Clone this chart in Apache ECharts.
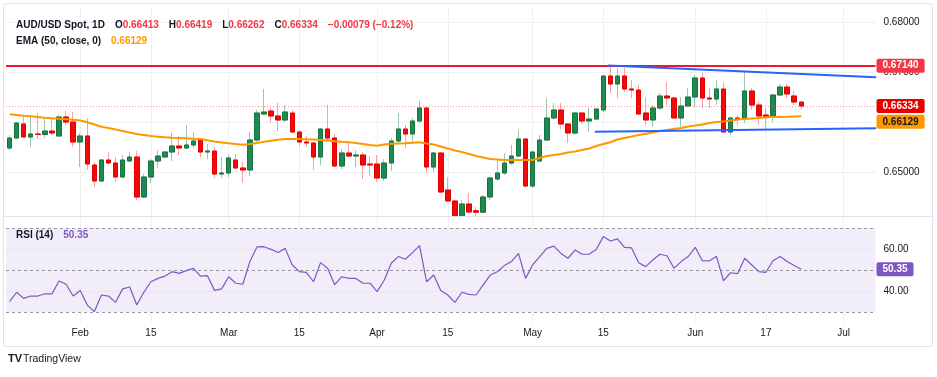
<!DOCTYPE html>
<html>
<head>
<meta charset="utf-8">
<script src="https://cdn.jsdelivr.net/npm/echarts@6/dist/echarts.min.js"></script>
<style>html,body{margin:0;padding:0;background:#fff}#chart{width:937px;height:377px}</style>
</head>
<body>
<div id="chart"></div>
<script>
// daily AUD/USD candles, 2024-01-18 .. 2024-06-24 (mid-April lows run off the pane bottom)
const opens = [0.65494,0.65694,0.65974,0.65714,0.65774,0.65764,0.65834,0.65734,0.66114,0.66014,
  0.65614,0.65734,0.65154,0.64834,0.65254,0.65194,0.64914,0.65234,0.65314,0.64514,
  0.64914,0.65234,0.65314,0.65414,0.65534,0.65494,0.65554,0.65654,0.65414,0.65434,
  0.64974,0.64994,0.65254,0.65094,0.65054,0.65654,0.66174,0.66234,0.66134,0.66054,
  0.66194,0.65814,0.65614,0.65594,0.65314,0.65874,0.65694,0.65134,0.65394,0.65334,
  0.65354,0.65174,0.65174,0.64894,0.65194,0.65634,0.65874,0.65774,0.66034,0.66294,
  0.65114,0.65394,0.64654,0.64434,0.64135,0.64374,0.64240,0.64210,0.64514,0.64874,
  0.64994,0.65194,0.65334,0.65674,0.64734,0.65234,0.65654,0.66094,0.66254,0.65974,
  0.65794,0.66194,0.66034,0.66074,0.66254,0.66934,0.66774,0.66934,0.66674,0.66654,
  0.66194,0.66054,0.66294,0.66534,0.66494,0.66094,0.66334,0.66514,0.66894,0.66494,
  0.66474,0.66674,0.65814,0.66094,0.66074,0.66634,0.66354,0.66154,0.66114,0.66554,
  0.66714,0.66534,0.66413];
const highs = [0.65750,0.66014,0.66134,0.66114,0.66194,0.66094,0.66094,0.66154,0.66234,0.66214,
  0.65794,0.66094,0.65214,0.65274,0.65414,0.65314,0.65354,0.65414,0.65434,0.64974,
  0.65274,0.65454,0.65434,0.65794,0.65734,0.65954,0.65814,0.65694,0.65574,0.65514,
  0.65314,0.65374,0.65374,0.65214,0.65814,0.66254,0.66674,0.66294,0.66394,0.66354,
  0.66254,0.65854,0.65734,0.65614,0.65880,0.66354,0.65774,0.65474,0.65594,0.65454,
  0.65414,0.65334,0.65354,0.65274,0.65694,0.66194,0.65954,0.66094,0.66434,0.66310,
  0.65414,0.65414,0.64914,0.64454,0.64454,0.64594,0.64320,0.64554,0.64914,0.65254,
  0.65394,0.65554,0.65854,0.65690,0.65420,0.65754,0.66494,0.66394,0.66394,0.65994,
  0.66214,0.66214,0.66294,0.66294,0.66954,0.67140,0.67094,0.67094,0.66854,0.66754,
  0.66514,0.66354,0.66594,0.66814,0.66514,0.66514,0.66694,0.66954,0.66994,0.66694,
  0.66854,0.66814,0.66114,0.66154,0.67014,0.66694,0.66414,0.66294,0.66574,0.66774,
  0.66774,0.66634,0.66419];
const lows = [0.65454,0.65674,0.65694,0.65514,0.65674,0.65694,0.65754,0.65714,0.65954,0.65514,
  0.65114,0.65054,0.64714,0.64814,0.65174,0.64814,0.64894,0.65214,0.64454,0.64494,
  0.64794,0.65094,0.65294,0.65234,0.65354,0.65474,0.65494,0.65314,0.65274,0.64894,
  0.64894,0.64914,0.65074,0.64794,0.64934,0.65614,0.66154,0.65994,0.65834,0.66014,
  0.65794,0.65534,0.65514,0.65054,0.65154,0.65614,0.65114,0.65074,0.65314,0.65114,
  0.64874,0.64934,0.64814,0.64834,0.65034,0.65614,0.65494,0.65614,0.65994,0.64994,
  0.65014,0.64594,0.64414,0.64126,0.64126,0.64180,0.64126,0.64194,0.64454,0.64834,
  0.64954,0.65154,0.65314,0.64714,0.64694,0.65214,0.65634,0.66074,0.65874,0.65594,
  0.65754,0.65974,0.65814,0.66054,0.66214,0.66594,0.66494,0.66614,0.66494,0.66154,
  0.65954,0.65914,0.66254,0.66354,0.66080,0.65914,0.66314,0.66314,0.66294,0.66294,
  0.66354,0.65800,0.65754,0.65934,0.65994,0.66254,0.65954,0.65854,0.66014,0.66534,
  0.66494,0.66354,0.66262];
const closes = [0.65694,0.65994,0.65714,0.65774,0.65764,0.65834,0.65794,0.66114,0.66014,0.65614,
  0.65734,0.65174,0.64834,0.65254,0.65194,0.64914,0.65254,0.65314,0.64514,0.64914,
  0.65234,0.65334,0.65414,0.65534,0.65494,0.65554,0.65634,0.65414,0.65434,0.64974,
  0.64994,0.65294,0.65094,0.65054,0.65654,0.66194,0.66214,0.66134,0.66054,0.66214,
  0.65814,0.65614,0.65594,0.65314,0.65874,0.65694,0.65134,0.65394,0.65334,0.65354,
  0.65154,0.65154,0.64894,0.65194,0.65634,0.65874,0.65774,0.66034,0.66294,0.65114,
  0.65394,0.64614,0.64434,0.64135,0.64374,0.64214,0.64210,0.64514,0.64894,0.64994,
  0.65194,0.65334,0.65674,0.64734,0.65414,0.65654,0.66094,0.66254,0.65974,0.65794,
  0.66194,0.66034,0.66074,0.66274,0.66934,0.66774,0.66934,0.66674,0.66654,0.66174,
  0.66054,0.66294,0.66534,0.66494,0.66094,0.66334,0.66514,0.66894,0.66494,0.66474,
  0.66674,0.65814,0.66094,0.66074,0.66634,0.66354,0.66134,0.66114,0.66554,0.66714,
  0.66574,0.66413,0.66334];
// EMA(50, close) as drawn
const ema50 = [0.66168,0.66154,0.66140,0.66128,0.66114,0.66100,0.66088,0.66078,0.66068,0.66058,
  0.66044,0.66008,0.65964,0.65920,0.65894,0.65864,0.65834,0.65804,0.65774,0.65754,
  0.65734,0.65718,0.65708,0.65700,0.65694,0.65688,0.65680,0.65674,0.65648,0.65624,
  0.65604,0.65588,0.65574,0.65560,0.65574,0.65594,0.65618,0.65638,0.65658,0.65674,
  0.65674,0.65674,0.65670,0.65664,0.65654,0.65644,0.65630,0.65618,0.65608,0.65594,
  0.65574,0.65554,0.65540,0.65564,0.65578,0.65584,0.65588,0.65598,0.65608,0.65584,
  0.65564,0.65524,0.65484,0.65444,0.65414,0.65374,0.65334,0.65304,0.65274,0.65264,
  0.65254,0.65254,0.65254,0.65254,0.65254,0.65294,0.65334,0.65354,0.65374,0.65404,
  0.65424,0.65454,0.65484,0.65534,0.65574,0.65608,0.65664,0.65694,0.65724,0.65754,
  0.65780,0.65804,0.65834,0.65854,0.65874,0.65894,0.65924,0.65944,0.65964,0.65994,
  0.66014,0.66024,0.66044,0.66064,0.66074,0.66084,0.66094,0.66108,0.66112,0.66114,
  0.66118,0.66124,0.66129];
// RSI(14)
const rsi14 = [34.9,39.4,36.5,37.6,37.6,38.7,38.6,44.8,43.2,37.6,
  40.2,33.3,30.2,38.1,37.6,34.6,41.0,41.9,33.3,39.4,
  44.4,46.0,47.1,49.2,48.4,49.7,50.8,47.1,47.3,40.3,
  41.0,46.8,43.7,43.2,54.0,61.0,61.1,59.8,58.3,60.3,
  52.4,49.2,48.9,44.4,53.5,50.8,43.0,46.8,46.0,46.0,
  43.7,43.7,39.7,45.1,53.2,56.4,55.1,58.3,61.6,44.4,
  47.6,40.2,38.1,34.6,39.4,38.4,38.1,42.9,47.6,49.2,
  52.1,54.0,57.9,46.0,52.4,56.4,60.3,61.4,57.9,55.6,
  59.5,57.5,57.6,59.8,65.9,63.8,64.8,60.8,60.5,53.5,
  51.6,54.8,57.5,56.8,50.8,54.0,56.4,60.8,54.4,54.3,
  56.5,44.9,48.7,48.3,55.6,52.4,49.2,48.9,54.4,56.4,
  54.0,52.1,50.35];

const tickIdx = [10, 20, 31, 41, 52, 62, 74, 84, 97, 107, 118];
const tickLabels = ['Feb', '15', 'Mar', '15', 'Apr', '15', 'May', '15', 'Jun', '17', 'Jul'];
const priceGrid = [0.65, 0.66, 0.67, 0.68];
const priceLabels = [0.65, 0.67, 0.68];
const rsiLabels = [40, 60];
const rsiLevels = [70, 50, 30];
const resistance = 0.6714;
const upperTrend = [[84.7, 0.67146], [122.6, 0.66908]];
const lowerTrend = [[82.8, 0.65818], [122.6, 0.65888]];

const SLOTS = 123; // bars + empty space on the right
const dates = [];
for (let d = new Date(Date.UTC(2024, 0, 18)); dates.length < SLOTS; d.setUTCDate(d.getUTCDate() + 1)) {
  const wd = d.getUTCDay();
  if (wd !== 0 && wd !== 6) dates.push(d.toISOString().slice(0, 10));
}

const FONT = 'Liberation Sans';
const TXT = '#131722';
const GRID_L = 6, GRID_W = 869.5;
const n = closes.length - 1;
const chg = closes[n] - closes[n - 1];
const pct = chg / closes[n - 1] * 100;
const sign = v => (v < 0 ? '\u2212' : '+');

const wicks = opens.map((o, i) => [o, closes[i], lows[i], highs[i]]);
const bodies = opens.map((o, i) => [o, closes[i], Math.min(o, closes[i]), Math.max(o, closes[i])]);

const tag = (bg, fg, text) => ({
  show: true, position: 'end', distance: 1, formatter: text,
  backgroundColor: bg, color: fg, fontFamily: FONT, fontSize: 10, fontWeight: 'bold',
  padding: [2, 6, 2, 6], borderRadius: 2
});

const chart = echarts.init(document.getElementById('chart'));

chart.setOption({
  animation: false,
  backgroundColor: '#ffffff',
  title: [
    {
      left: 16, top: 16, padding: 0,
      text: '{b|AUD/USD Spot, 1D}  {b|O}{r|' + opens[n].toFixed(5) + '}  {b|H}{r|' + highs[n].toFixed(5) +
        '}  {b|L}{r|' + lows[n].toFixed(5) + '}  {b|C}{r|' + closes[n].toFixed(5) + '}  {r|' +
        sign(chg) + Math.abs(chg).toFixed(5) + ' (' + sign(chg) + Math.abs(pct).toFixed(2) + '%)}',
      textStyle: { rich: {
        b: { fontFamily: FONT, fontSize: 10, color: TXT },
        r: { fontFamily: FONT, fontSize: 10, color: '#f23645' }
      } }
    },
    {
      left: 16, top: 32, padding: 0,
      text: '{b|EMA (50, close, 0)}  {o|' + ema50[n].toFixed(5) + '}',
      textStyle: { rich: {
        b: { fontFamily: FONT, fontSize: 10, color: TXT },
        o: { fontFamily: FONT, fontSize: 10, color: '#ff9800' }
      } }
    },
    {
      left: 16, top: 226, padding: 0,
      text: '{b|RSI (14)}  {p|' + rsi14[n].toFixed(2) + '}',
      textStyle: { rich: {
        b: { fontFamily: FONT, fontSize: 10, color: TXT },
        p: { fontFamily: FONT, fontSize: 10, color: '#7e57c2' }
      } }
    }
  ],
  grid: [
    { left: GRID_L, width: GRID_W, top: 8, height: 208.5 },
    { left: GRID_L, width: GRID_W, top: 217.5, height: 105 }
  ],
  xAxis: [
    { type: 'category', gridIndex: 0, data: dates, boundaryGap: true,
      axisLine: { show: false }, axisTick: { show: false }, axisLabel: { show: false }, splitLine: { show: false } },
    { type: 'category', gridIndex: 1, data: dates, boundaryGap: true,
      axisLine: { show: false }, axisTick: { show: false }, splitLine: { show: false },
      axisLabel: {
        interval: i => tickIdx.includes(i),
        formatter: (v, i) => tickLabels[tickIdx.indexOf(i)],
        fontFamily: FONT, fontSize: 10, color: TXT, margin: 6
      } },
    { type: 'value', gridIndex: 0, min: -0.5, max: SLOTS - 0.5, show: false },
    { type: 'value', gridIndex: 1, min: -0.5, max: SLOTS - 0.5, show: false }
  ],
  yAxis: [
    { type: 'value', gridIndex: 0, position: 'right', min: 0.64124, max: 0.68294,
      axisLine: { show: false }, axisTick: { show: false }, splitLine: { show: false },
      axisLabel: {
        customValues: priceLabels,
        margin: 8, fontFamily: FONT, fontSize: 10, color: TXT,
        formatter: v => v.toFixed(5)
      } },
    { type: 'value', gridIndex: 1, position: 'right', min: 25, max: 75,
      axisLine: { show: false }, axisTick: { show: false }, splitLine: { show: false },
      axisLabel: {
        customValues: rsiLabels,
        margin: 8, fontFamily: FONT, fontSize: 10, color: TXT,
        formatter: v => v.toFixed(2)
      } }
  ],
  series: [
    { // price pane grid
      type: 'line', xAxisIndex: 2, yAxisIndex: 0, data: [], silent: true, z: 1,
      markLine: { silent: true, symbol: ['none', 'none'], z: 1, precision: 5, label: { show: false },
        lineStyle: { color: '#eef0f4', type: 'solid', width: 1 },
        data: tickIdx.map(i => ({ xAxis: i })).concat(priceGrid.map(v => ({ yAxis: v }))) }
    },
    { // rsi pane grid, band and levels
      type: 'line', xAxisIndex: 3, yAxisIndex: 1, data: [], silent: true, z: 1,
      markArea: { silent: true, itemStyle: { color: 'rgba(126,87,194,0.1)' },
        data: [[{ yAxis: rsiLevels[2] }, { yAxis: rsiLevels[0] }]] },
      markLine: { silent: true, symbol: ['none', 'none'], z: 1, precision: 5, label: { show: false },
        data: tickIdx.map(i => ({ xAxis: i, lineStyle: { color: '#eef0f4', type: 'solid', width: 1 } }))
          .concat(rsiLabels.map(v => ({ yAxis: v, lineStyle: { color: '#e9e6f2', type: 'solid', width: 1 } })))
          .concat(rsiLevels.map(v => ({ yAxis: v, lineStyle: { color: '#9598a1', type: [3, 3], width: 1 } }))) }
    },
    {
      name: 'wicks', type: 'candlestick', xAxisIndex: 0, yAxisIndex: 0, data: wicks, barWidth: 5, z: 3,
      itemStyle: { color: '#9cc7a9', color0: '#f4a3a6', borderColor: '#9cc7a9', borderColor0: '#f4a3a6', borderWidth: 1 }
    },
    {
      name: 'AUD/USD', type: 'candlestick', xAxisIndex: 0, yAxisIndex: 0, data: bodies, barWidth: 5, z: 4,
      itemStyle: { color: '#1f8a4f', color0: '#f20a0a', borderColor: '#17733f', borderColor0: '#e00000', borderWidth: 1 },
      markLine: {
        silent: true, symbol: ['none', 'none'], precision: 5,
        data: [
          { yAxis: resistance, lineStyle: { color: '#f0162f', width: 2, type: 'solid' },
            label: tag('#f23645', '#ffffff', resistance.toFixed(5)) },
          { yAxis: closes[n], lineStyle: { color: 'rgba(242,54,69,0.55)', width: 1, type: [1, 2] },
            label: tag('#e60000', '#ffffff', closes[n].toFixed(5)) }
        ]
      }
    },
    {
      name: 'EMA 50', type: 'line', xAxisIndex: 0, yAxisIndex: 0, data: ema50, showSymbol: false, z: 5,
      lineStyle: { color: '#ff9800', width: 2 },
      markLine: {
        silent: true, symbol: ['none', 'none'], precision: 5,
        data: [{ yAxis: ema50[n], lineStyle: { width: 0 },
          label: { show: true, position: 'end', distance: 1, padding: [11, 0, 0, 0],
            formatter: '{t|' + ema50[n].toFixed(5) + '}',
            rich: { t: { backgroundColor: '#ff9800', color: '#131722', fontFamily: FONT, fontSize: 10,
              fontWeight: 'bold', padding: [2, 6, 2, 6], borderRadius: 2 } } } }]
      }
    },
    {
      name: 'upper', type: 'line', xAxisIndex: 2, yAxisIndex: 0, data: upperTrend, showSymbol: false, z: 6,
      lineStyle: { color: '#2962ff', width: 2 }
    },
    {
      name: 'lower', type: 'line', xAxisIndex: 2, yAxisIndex: 0, data: lowerTrend, showSymbol: false, z: 6,
      lineStyle: { color: '#2962ff', width: 2 }
    },
    {
      name: 'RSI', type: 'line', xAxisIndex: 1, yAxisIndex: 1, data: rsi14, showSymbol: false, z: 5,
      lineStyle: { color: '#7e57c2', width: 1.2 },
      markLine: {
        silent: true, symbol: ['none', 'none'], precision: 2,
        data: [{ yAxis: rsi14[n], lineStyle: { width: 0 },
          label: tag('#7e57c2', '#ffffff', rsi14[n].toFixed(2)) }]
      }
    }
  ],
  graphic: [
    { type: 'line', z: 101, silent: true, shape: { x1: 4, y1: 216.5, x2: 933, y2: 216.5 },
      style: { stroke: '#e0e3eb', lineWidth: 1 } },
    { type: 'rect', z: 101, silent: true, shape: { x: 3.5, y: 3.5, width: 929, height: 343, r: 3 },
      style: { fill: 'none', stroke: '#e0e3eb', lineWidth: 1 } },
    { type: 'text', z: 101, silent: true, left: 8, top: 353,
      style: { text: 'TV', fontFamily: FONT, fontSize: 11, fontWeight: 'bold', fill: '#131722' } },
    { type: 'text', z: 101, silent: true, left: 23, top: 354,
      style: { text: 'TradingView', fontFamily: FONT, fontSize: 10.5, fill: '#131722' } }
  ]
});
</script>
</body>
</html>
